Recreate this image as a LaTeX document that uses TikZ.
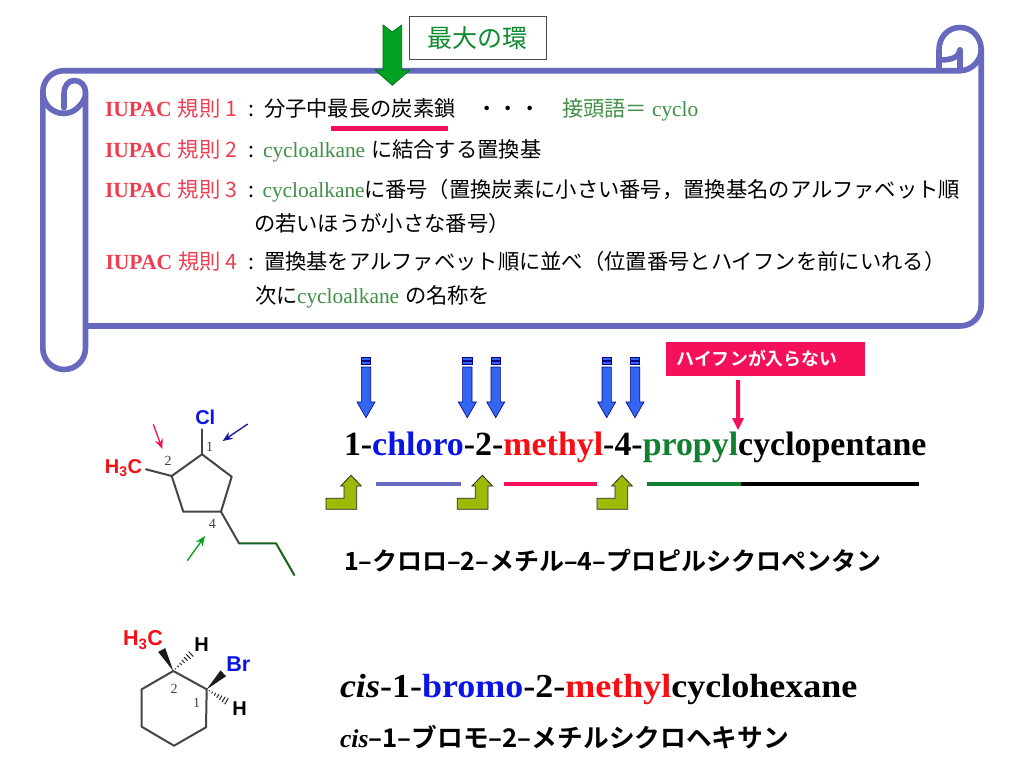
\documentclass[tikz,border=0pt]{standalone}
\usepackage{fontspec}
\usepackage{graphicx}
\setmainfont{Liberation Serif}
\setsansfont{Liberation Sans}
\newfontfamily\jp[BoldFont=* Bold]{Noto Sans CJK JP}
\usetikzlibrary{calc,arrows.meta}
\definecolor{scrollc}{HTML}{6669BE}
\definecolor{rulered}{HTML}{EE3F52}
\definecolor{rulegreen}{HTML}{3F8F45}
\definecolor{crim}{HTML}{F5105A}
\definecolor{bigGreen}{HTML}{00A020}
\definecolor{boxgreen}{HTML}{0E8A30}
\definecolor{arrowblue}{HTML}{3366F0}
\definecolor{bentc}{HTML}{9BBB08}
\definecolor{nameblue}{HTML}{0A14E6}
\definecolor{namered}{HTML}{F50F14}
\definecolor{namegreen}{HTML}{118030}
\definecolor{bond}{HTML}{454545}
\newcommand\fs[1]{\fontsize{#1}{#1}\selectfont}
\tikzset{
  txt/.style={anchor=base west,inner sep=0pt,outer sep=0pt,font=\jp\fs{21.3}},
  rulelab/.style={txt,text=rulered},
  greentxt/.style={txt,text=rulegreen,font=\fs{21.4}},
  atomlab/.style={inner sep=0pt,font=\sffamily\bfseries\fs{20}},
  numlab/.style={inner sep=0pt,font=\fs{14},text=black!75},
  nameline/.style={txt,font=\bfseries\fs{33.9}},
  kanaline/.style={txt,font=\jp\bfseries\fs{25}},
  scrollline/.style={draw=scrollc,line width=5.6pt,line cap=round,line join=round},
  ruleunder/.style={line width=4pt},
  thinarrow/.style={line width=1.3pt,-{Stealth[length=10pt,width=8pt]}},
  bondline/.style={draw=bond,line width=2pt,line join=round,line cap=round}
}
\newcommand\rulehead[4]{%
  \node[rulelab] (#1) at (#2,#3) {{\rmfamily\bfseries\fs{21.6}IUPAC}\kern6pt 規則\kern5pt#4};}
\newcommand\dnarrow[2]{%
  \begin{scope}[shift={(#1,0)},draw=black!45!blue,line width=.6pt]
    \path[fill=arrowblue,draw] (-4.7,357.5) rectangle (4.7,360);
    \path[fill=arrowblue,draw] (-4.7,361.6) rectangle (4.7,364.2);
    \path[fill=arrowblue,draw] (-4.7,367) -- (4.7,367) -- (4.7,402) -- (9,402) -- (0,417.7) -- (-9,402) -- (-4.7,402) -- cycle;
  \end{scope}}
\newcommand\bent[1]{%
  \path[shift={(#1,0)},fill=bentc,draw=black!85,line width=.8pt] (0,509.3) -- (0,498.3) -- (18,498.3) -- (18,486) -- (14.7,486) -- (25,475.3) -- (35.3,486) -- (30.7,486) -- (30.7,509.3) -- cycle;}
\newcommand\wedgebond[2]{%
  \fill[black!90] (#1) -- ($(#2)!4pt!90:(#1)$) -- ($(#2)!4pt!-90:(#1)$) -- cycle;}
\newcommand\hashbond[2]{%
  \foreach \t/\w in {.12/.6,.26/1,.40/1.5,.54/2,.68/2.5,.82/3,.96/3.5}{%
    \draw[black!85,line width=1pt] ($(#1)!\t!(#2)!\w pt!90:(#2)$) -- ($(#1)!\t!(#2)!\w pt!-90:(#2)$);}}
\begin{document}
\begin{tikzpicture}[x=1pt,y=-1pt]
\useasboundingbox (0,0) rectangle (1024,768);
\fill[white] (0,0) rectangle (1024,768);

% scroll
\draw[scrollline] (42.8,92) .. controls (42.8,80) and (52,70.7) .. (64,70.7) -- (960,70.7);
\draw[scrollline] (981.2,50) -- (981.2,305) .. controls (981.2,317) and (972,326) .. (960,326) -- (85.5,326);
\draw[scrollline] (85.5,92) -- (85.5,348) .. controls (85.5,360) and (76,369.5) .. (64.2,369.5) .. controls (52.4,369.5) and (42.8,360) .. (42.8,348) -- (42.8,92);
\draw[scrollline] (42.8,92) .. controls (42.8,104) and (52,113.5) .. (64,113.5) .. controls (73,113.5) and (82,106) .. (85.5,96);
\draw[scrollline] (64,108) -- (64,94) .. controls (64,86) and (68,80.5) .. (74.5,80.5) .. controls (81,80.5) and (85.5,86) .. (85.5,92);
\draw[scrollline] (939,70) -- (939,50) .. controls (939,37) and (948,27.5) .. (960,27.5) .. controls (972,27.5) and (981.2,37) .. (981.2,50) .. controls (981.2,60) and (972,70.7) .. (960,70.7);
\draw[scrollline] (960,68) -- (960,50);
\draw[scrollline] (960,50) .. controls (959,57) and (952,60) .. (940,60);

% title box and big arrow
\path[fill=white,draw=black!70,line width=.9pt] (409.3,16.7) rectangle (546.3,59.7);
\node[txt,text=boxgreen,font=\jp\fs{25}] (boxlabel) at (427,47.5) {最大の環};
\path[fill=bigGreen,draw=black!30!bigGreen,line width=.7pt] (383,25) -- (392.3,32) -- (401.7,25) -- (401.7,70) -- (410,70) -- (392.3,85.3) -- (375,70) -- (383,70) -- cycle;

% rule lines
\rulehead{r1}{105}{116.5}{1}
\node[txt] (c1) at (248,116.5) {:};
\node[txt] (t1a) at (264,116.5) {分子中最長の炭素鎖};
\node[txt] (t1b) at (476.5,116.5) {・・・};
\node[txt,text=rulegreen] (t1c) at (562,116.5) {接頭語＝};
\node[greentxt] (t1d) at (652,116.5) {cyclo};
\draw[crim,line width=5pt] (331,128) -- (447.7,128);

\rulehead{r2}{105}{157.5}{2}
\node[txt] (c2) at (248,157.5) {:};
\node[greentxt] (t2a) at (263,157.5) {cycloalkane};
\node[txt] (t2b) at (371,157.5) {に結合する置換基};

\rulehead{r3}{105}{197.5}{3}
\node[txt] (c3) at (248,197.5) {:};
\node[greentxt] (t3a) at (262.5,197.5) {cycloalkane};
\node[txt] (t3b) at (364,197.5) {に番号（置換炭素に小さい番号，置換基名のアルファベット順};
\node[txt] (t3c) at (254,231.5) {の若いほうが小さな番号）};

\rulehead{r4}{105.5}{269.5}{4}
\node[txt] (c4) at (248,269.5) {:};
\node[txt] (t4a) at (264,269.5) {置換基をアルファベット順に並べ（位置番号とハイフンを前にいれる）};
\node[txt] (t4b) at (255,303.5) {次に};
\node[greentxt] (t4c) at (297,303.5) {cycloalkane};
\node[txt] (t4d) at (405,303.5) {の名称を};

% block arrows
\dnarrow{366}{}
\dnarrow{467.3}{}
\dnarrow{495.7}{}
\dnarrow{606.7}{}
\dnarrow{635}{}
\bent{326}
\bent{457.3}
\bent{597}

% pink box
\node[fill=crim,minimum width=199.6pt,minimum height=34.3pt,inner sep=0pt,outer sep=0pt] (pink) at (765.5,358.85) {};
\node[txt,text=white,font=\jp\bfseries\fs{17.9}] (pinktext) at (676.5,365) {ハイフンが入らない};
\path[fill=crim] (736,380) -- (740,380) -- (740,418) -- (744,418) -- (738,430) -- (732,418) -- (736,418) -- cycle;

% compound name 1
\node[nameline] (name1) at (344,455) {1-\textcolor{nameblue}{chloro}-2-\textcolor{namered}{methyl}-4-\textcolor{namegreen}{propyl}cyclopentane};
\draw[scrollc,ruleunder] (375.7,484) -- (461,484);
\draw[crim,ruleunder] (503.7,484) -- (597.3,484);
\draw[namegreen,ruleunder] (647,484) -- (740.7,484);
\draw[black,ruleunder] (740.7,484) -- (919,484);
\node[kanaline] (kana1) at (344,570) {1–クロロ–2–メチル–4–プロピルシクロペンタン};

% molecule 1
\coordinate (a1) at (202,454.3);
\coordinate (acl) at (202,429.3);
\coordinate (a2) at (171.7,476);
\coordinate (ame) at (146,469.3);
\coordinate (a5) at (231.7,476.7);
\coordinate (a4) at (221,511.7);
\coordinate (a3) at (183.3,511.7);
\coordinate (p1) at (239,543.3);
\coordinate (p2) at (276,543.3);
\coordinate (p3) at (294.3,575);
\draw[bondline] (a1) -- (a2) -- (a3) -- (a4) -- (a5) -- cycle;
\draw[bondline] (a1) -- (acl);
\draw[bondline] (a2) -- (ame);
\draw[bondline] (a4) -- (p1);
\draw[bondline,draw=black!55!green!60!bond] (p1) -- (p2) -- (p3);
\node[atomlab,text=nameblue] (cl) at (205.3,417.7) {Cl};
\node[atomlab,text=namered] (h3c1) at (123.5,468) {H\textsubscript{3}C};
\node[numlab] (n1) at (209.7,447) {1};
\node[numlab] (n2) at (168,460.7) {2};
\node[numlab] (n4) at (212.3,524.3) {4};
\coordinate (ar1a) at (247.7,424); \coordinate (ar1b) at (222.7,441);
\coordinate (ar2a) at (153.3,424.3); \coordinate (ar2b) at (162.3,449);
\coordinate (ar3a) at (187.3,560.7); \coordinate (ar3b) at (205,536);
\draw[thinarrow,draw=black!40!blue!80!scrollc,fill=black!40!blue] (ar1a) -- (ar1b);
\draw[thinarrow,draw=crim,fill=crim] (ar2a) -- (ar2b);
\draw[thinarrow,draw=bigGreen,fill=bigGreen] (ar3a) -- (ar3b);

% compound name 2
\node[nameline,font=\bfseries\fs{33.5}] (name2) at (340,697) {\scalebox{1.075}[1]{\textit{cis}-1-\textcolor{nameblue}{bromo}-2-\textcolor{namered}{methyl}cyclohexane}};
\node[kanaline,font=\jp\bfseries\fs{25.7}] (kana2) at (340,747.5) {{\rmfamily\itshape\bfseries cis}–1–ブロモ–2–メチルシクロヘキサン};

% molecule 2
\coordinate (b2) at (173.3,671);
\coordinate (b1) at (206.7,689.3);
\coordinate (b6) at (206,727.3);
\coordinate (b5) at (174,745.7);
\coordinate (b4) at (141.7,726.7);
\coordinate (b3) at (141.7,689.3);
\coordinate (bme) at (161.7,650);
\coordinate (bbr) at (223.3,673.3);
\coordinate (bh2) at (191.7,653.3);
\coordinate (bh1) at (227.3,701.7);
\draw[bondline] (b2) -- (b1) -- (b6) -- (b5) -- (b4) -- (b3) -- cycle;
\wedgebond{b2}{bme}
\wedgebond{b1}{bbr}
\hashbond{b2}{bh2}
\hashbond{b1}{bh1}
\node[atomlab,text=namered,font=\sffamily\bfseries\fs{21.5}] (h3c2) at (143,640) {H\textsubscript{3}C};
\node[atomlab,text=black] (h2) at (201.7,645) {H};
\node[atomlab,text=nameblue,font=\sffamily\bfseries\fs{21.5}] (br) at (238.3,664.3) {Br};
\node[atomlab,text=black] (h1) at (239.7,709) {H};
\node[numlab] (m2) at (174,689) {2};
\node[numlab] (m1) at (196.7,702.7) {1};
\end{tikzpicture}
\end{document}
